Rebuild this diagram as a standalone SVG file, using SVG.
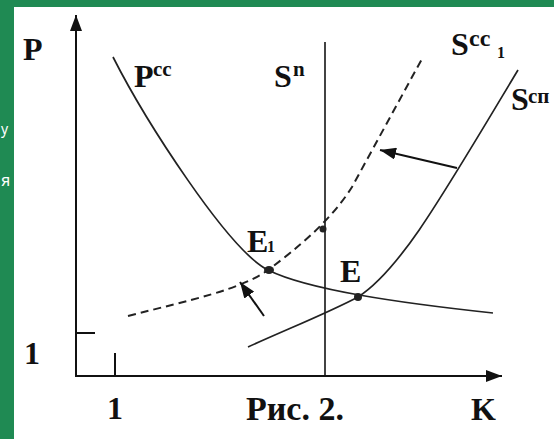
<svg xmlns="http://www.w3.org/2000/svg" width="554" height="439" viewBox="0 0 554 439">
  <style>
    .ax{stroke:#111;stroke-width:2;fill:none}
    .cv{stroke:#222;stroke-width:1.7;fill:none}
    .ds{stroke:#222;stroke-width:2;fill:none;stroke-dasharray:8 5}
    text{font-family:'Liberation Serif','Times New Roman','DejaVu Serif',serif;font-weight:bold;fill:#111}
    .lb{font-size:32px}
    .sp{font-size:21px}
    .sb{font-size:16px}
    .gt{font-family:'Noto Sans','DejaVu Sans',sans-serif;font-weight:normal;fill:#fff}
    .pt{fill:#222}
  </style>
  <defs>
    <marker id="ah" viewBox="0 0 16 12" refX="16" refY="6" markerWidth="16" markerHeight="12" markerUnits="userSpaceOnUse" orient="auto">
      <path d="M0,0 L16,6 L0,12 z" fill="#111"/>
    </marker>
  </defs>

  <!-- frame -->
  <rect x="0" y="0" width="554" height="439" fill="#1f8a53"/>
  <rect x="14" y="7" width="540" height="432" fill="#fff"/>
  <text class="gt" x="1" y="134" font-size="14">у</text>
  <text class="gt" x="1" y="186" font-size="16">я</text>

  <!-- axes -->
  <g id="axes">
    <line class="ax" x1="76" y1="377" x2="76" y2="15" marker-end="url(#ah)"/>
    <line class="ax" x1="75" y1="376" x2="502" y2="376" marker-end="url(#ah)"/>
    <line class="ax" x1="76" y1="333" x2="95" y2="333" stroke-width="1.6"/>
    <line class="ax" x1="115" y1="353" x2="115" y2="376" stroke-width="1.6"/>
  </g>

  <!-- curves -->
  <g id="connectors">
    <path id="Pcc" class="cv" d="M113,57 C145,120 228,250 268,270 C308,290 400,303 493,313"/>
    <path id="Scc1" class="ds" d="M128,316 C190,300 240,290 268,270 C295,250 330,222 352,187 L423,57"/>
    <path id="Scp" class="cv" d="M248,347 C290,328 330,312 358,297 C400,270 440,200 518,70"/>
    <line id="Sn" class="cv" x1="325" y1="42" x2="325" y2="375" stroke-width="2"/>
    <line class="ax" x1="457" y1="168" x2="380" y2="150" marker-end="url(#ah)"/>
    <line class="ax" x1="264" y1="316" x2="240" y2="282" marker-end="url(#ah)"/>
  </g>

  <!-- points -->
  <g id="E1"><ellipse class="pt" cx="269" cy="270" rx="5" ry="4"/></g>
  <g id="E"><circle class="pt" cx="358" cy="297" r="4"/></g>
  <g id="Pint"><circle class="pt" cx="323" cy="229" r="3.5"/></g>

  <!-- labels -->
  <g id="labels">
    <text class="lb" x="23" y="60">P</text>
    <text class="lb" x="134" y="87">P</text><text class="sp" x="153" y="76">cc</text>
    <text class="lb" x="274" y="87">S</text><text class="sp" x="293" y="76">n</text>
    <text class="lb" x="451" y="55">S</text><text class="sp" x="469" y="46" style="font-size:24px">cc</text><text class="sb" x="497" y="58">1</text>
    <text class="lb" x="511" y="110">S</text><text class="sp" x="528" y="103">cп</text>
    <text class="lb" x="247" y="252">E</text><text class="sb" x="267" y="252">1</text>
    <text class="lb" x="340" y="282">E</text>
    <text class="lb" x="24" y="364">1</text>
    <text class="lb" x="107" y="419">1</text>
    <text class="lb" x="246" y="420" style="font-size:34px">Рис. 2.</text>
    <text class="lb" x="471" y="420">K</text>
  </g>
</svg>
